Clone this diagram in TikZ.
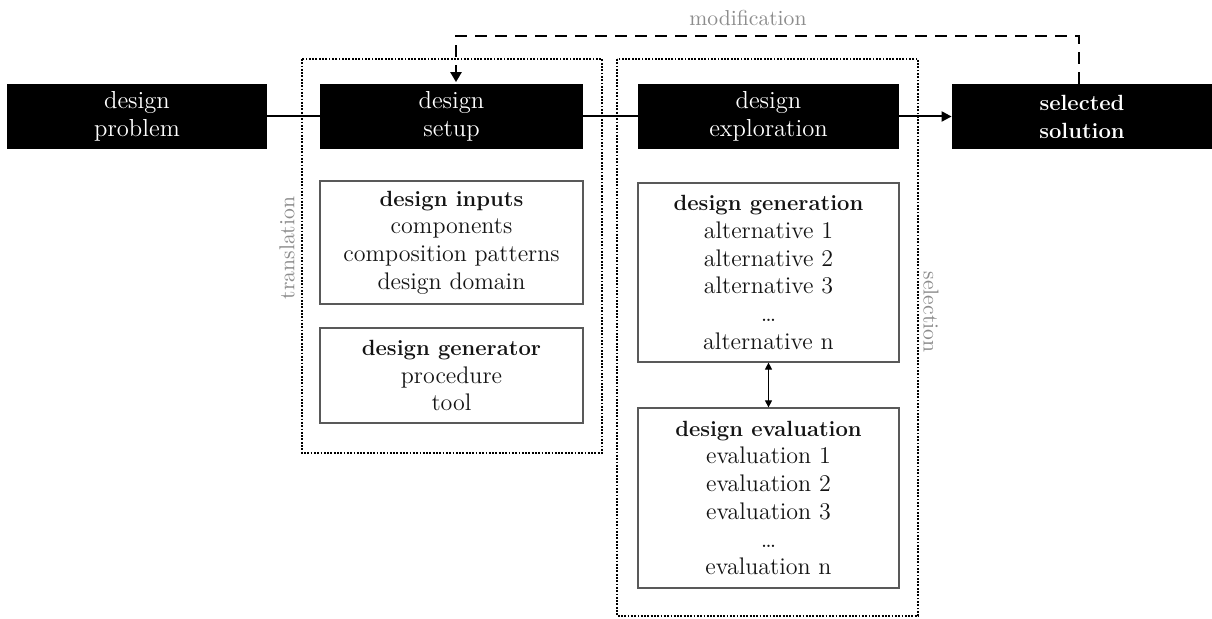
\documentclass[tikz,border=0pt]{standalone}
\usetikzlibrary{arrows.meta,calc}
\newcommand\hdfont{\fontsize{11}{13.85}\selectfont\bfseries}
\begin{document}
\begin{tikzpicture}[x=0.5pt,y=-0.5pt,
  blk/.style={fill=black,text=white,align=center,inner sep=0pt,minimum height=32.5pt,font=\fontsize{12.3}{14}\selectfont},
  inbox/.style={draw=black!65,line width=0.6pt,fill=white,align=center,inner sep=0pt,text=black!92,font=\fontsize{12}{13.85}\selectfont},
  dotbox/.style={draw=black,line width=1.1pt,dash pattern=on 0.9pt off 0.75pt},
  lbl/.style={text=black!45,font=\fontsize{10.8}{12}\selectfont,inner sep=0pt},
  conn/.style={line width=1pt}
]
\useasboundingbox[fill=white] (0,0) rectangle (1212,619);

% dotted groups
\draw[dotbox] (302,59) rectangle (602,453);
\draw[dotbox] (617,59) rectangle (918,616);

% black boxes
\node[blk,minimum width=130pt] (prob) at (137,116.5) {design\\problem};
\node[blk,minimum width=131.5pt] (setup) at (451.5,116.5) {design\\setup};
\node[blk,minimum width=130.5pt] (expl) at (768.5,116.5) {design\\exploration};
\node[blk,minimum width=130pt] (sol) at (1082,116.5) {\hdfont selected\\\hdfont solution};

% connectors
\draw[conn] (prob.east) -- (setup.west);
\draw[conn] (setup.east) -- (expl.west);
\draw[conn,-{Triangle[length=5pt,width=5pt]}] (expl.east) -- (sol.west);

% modification loop
\coordinate (m1) at (1079,36);
\coordinate (m2) at (456,36);
\draw[line width=1.3pt,dash pattern=on 6pt off 4pt,-{Triangle[length=5pt,width=5.5pt]}]
  (sol.north -| m1) -- (m1) -- (m2) -- ($(setup.north -| m2)+(0,-1.5)$);
\node[lbl] (modl) at (748,18) {modification};

% labels
\node[lbl,rotate=90] (trl) at (287,248) {translation};
\node[lbl,rotate=-90] (sell) at (931,312) {selection};

% inner boxes
\node[inbox,minimum width=131.5pt,minimum height=61.5pt] (inp) at (451.5,242.5)
  {{\hdfont design inputs}\\components\\composition patterns\\design domain};
\node[inbox,minimum width=131.5pt,minimum height=47.5pt] (gen) at (451.5,375.5)
  {{\hdfont design generator}\\procedure\\tool};
\node[inbox,minimum width=130.5pt,minimum height=89.5pt] (dgen) at (768.5,272.5)
  {{\hdfont design generation}\\alternative 1\\alternative 2\\alternative 3\\\ldots\\alternative n};
\node[inbox,minimum width=130.5pt,minimum height=90pt] (deval) at (768.5,498)
  {{\hdfont design evaluation}\\evaluation 1\\evaluation 2\\evaluation 3\\\ldots\\evaluation n};

\draw[line width=0.5pt,{Triangle[length=3.5pt,width=3.5pt]}-{Triangle[length=3.5pt,width=3.5pt]}]
  (dgen.south) -- (deval.north);
\end{tikzpicture}
\end{document}
